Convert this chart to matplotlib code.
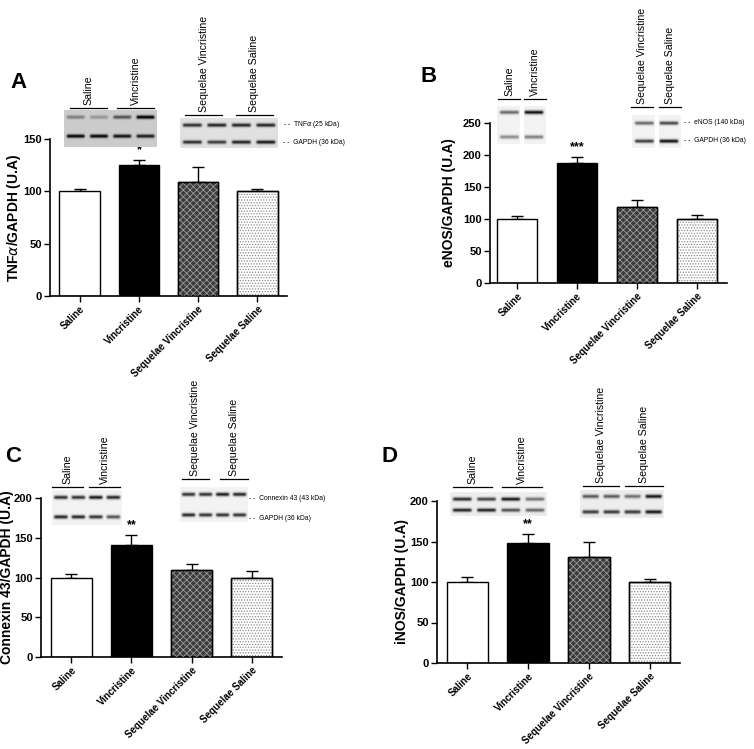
import numpy as np
import matplotlib
matplotlib.use("Agg")
import matplotlib.pyplot as plt

W, H = 754, 749
plt.rcParams['font.family'] = ['Liberation Sans', 'DejaVu Sans']
plt.rcParams['hatch.linewidth'] = 0.6

groups = ['Saline', 'Vincristine', 'Sequelae Vincristine', 'Sequelae Saline']

# values (mean, upper SEM)
tnf_mean = [100, 125, 109, 100]
tnf_err = [2.5, 5, 14, 2]
enos_mean = [100, 188, 119, 100]
enos_err = [4, 9, 10, 6]
cx43_mean = [100, 141, 110, 100]
cx43_err = [5, 12, 7, 8]
inos_mean = [100, 148, 131, 100]
inos_err = [6, 11, 18, 4]

stars = ['', '*', '', '']
stars_b = ['', '***', '', '']
stars_cd = ['', '**', '', '']

# blot band darkness per lane (top protein row, GAPDH row)
blot_a_left = ([0.35, 0.25, 0.55, 0.95], [0.9, 0.9, 0.85, 0.8])
blot_a_right = ([0.8, 0.85, 0.85, 0.85], [0.8, 0.75, 0.85, 0.9])
blot_b_left = ([0.6, 1.0], [0.45, 0.5])
blot_b_right = ([0.6, 0.75], [0.8, 1.0])
blot_c_left = ([0.85, 0.85, 0.95, 0.9], [0.9, 0.9, 0.85, 0.7])
blot_c_right = ([0.85, 0.85, 0.95, 0.9], [0.9, 0.85, 0.85, 0.85])
blot_d_left = ([0.85, 0.75, 0.95, 0.55], [0.9, 0.9, 0.7, 0.6])
blot_d_right = ([0.65, 0.65, 0.55, 0.95], [0.8, 0.8, 0.8, 0.95])

fig = plt.figure(figsize=(W / 100, H / 100), dpi=100)


def px_axes(x0, y0, x1, y1):
    return fig.add_axes([x0 / W, 1 - y1 / H, (x1 - x0) / W, (y1 - y0) / H])


def ftext(x, y, s, **kw):
    fig.text(x / W, 1 - y / H, s, **kw)


def bar_panel(box, means, errs, ymax, step, ylabel, sig, label_x, xlim=(-0.5, 3.5)):
    ax = px_axes(*box)
    x = np.arange(len(groups))
    faces = ['white', 'black', '#3c3c3c', 'white']
    ax.bar(x, means, width=0.68, color=faces, edgecolor='black', linewidth=1.0, zorder=2)
    # hatch overlays
    ax.bar(x[2], means[2], width=0.68, fill=False, hatch='xxxxx', edgecolor='#9c9c9c',
           linewidth=0, zorder=3)
    ax.bar(x[3], means[3], width=0.68, fill=False, hatch='......', edgecolor='#8c8c8c',
           linewidth=0, zorder=3)
    ax.bar(x[2:], means[2:], width=0.68, fill=False, edgecolor='black', linewidth=1.0, zorder=4)
    ax.errorbar(x, means, yerr=[np.zeros(len(errs)), errs], fmt='none', ecolor='black',
                elinewidth=1.0, capsize=4, capthick=1.0, zorder=1)
    for xi, m, e, s in zip(x, means, errs, sig):
        if s:
            ax.text(xi, m + e + ymax * 0.025, s, ha='center', va='bottom',
                    fontsize=9, fontweight='bold')
    ax.set_ylim(0, ymax)
    ax.set_xlim(*xlim)
    ax.set_yticks(np.arange(0, ymax + 1, step))
    ax.set_xticks(x)
    ax.set_xticklabels(groups, rotation=45, ha='right', rotation_mode='anchor',
                       fontsize=7, fontweight='bold')
    for lbl in ax.get_yticklabels():
        lbl.set_fontweight('bold')
        lbl.set_fontsize(8)
    ax.tick_params(axis='both', direction='out', length=4, width=1.0, pad=2)
    ax.spines['top'].set_visible(False)
    ax.spines['right'].set_visible(False)
    ax.spines['left'].set_linewidth(1.2)
    ax.spines['bottom'].set_linewidth(1.2)
    ax.set_ylabel(ylabel, fontsize=10, fontweight='bold')
    # label_x is roughly the right edge of the rotated label, in figure pixels
    ax.yaxis.set_label_coords((label_x - box[0]) / (box[2] - box[0]), 0.5)
    ax.set_facecolor('none')
    return ax


def blot(box, rows, bands_y, lanes, bg=0.92, gap_after=None):
    x0, y0, x1, y1 = box
    ax = px_axes(x0, y0, x1, y1)
    h = int(y1 - y0) * 4
    w = int(x1 - x0) * 4
    img = np.full((h, w), bg)
    yy, xx = np.mgrid[0:h, 0:w]
    lane_w = w / lanes
    for r, (dark, by) in enumerate(zip(rows, bands_y)):
        cy = (by - y0) * 4
        for i, d in enumerate(dark):
            cx = (i + 0.5) * lane_w
            half = lane_w * 0.38
            px = 1 / (1 + np.exp((np.abs(xx - cx) - half) / 2.0))
            py = np.exp(-((yy - cy) ** 2) / (2 * 5.0 ** 2))
            img -= d * 0.9 * px * py
    img = np.clip(img, 0, 1)
    ax.imshow(img, cmap='gray', vmin=0, vmax=1, aspect='auto', interpolation='bilinear')
    if gap_after is not None:
        ax.axvline(gap_after * lane_w - 0.5, color='white', linewidth=3)
    ax.axis('off')
    return ax


def group_label(xa, xb, y, text):
    ln = plt.Line2D([xa / W, xb / W], [1 - y / H, 1 - y / H], color='black',
                    linewidth=0.9, transform=fig.transFigure)
    fig.add_artist(ln)
    ftext((xa + xb) / 2, y - 3, text, rotation=90, ha='center', va='bottom', fontsize=7.6)


def side_label(x, y, text):
    ftext(x, y, '- -  ' + text, ha='left', va='center', fontsize=4.9)


# ---- panel A
bar_panel((50, 139, 287, 296), tnf_mean, tnf_err, 150, 50, r'TNF$\alpha$/GAPDH (U.A)', stars,
          label_x=23)
blot((64, 110, 157, 147), blot_a_left, [117, 136], 4, bg=0.8)
blot((180, 118, 278, 148), blot_a_right, [125, 142], 4, bg=0.88)
group_label(70, 107, 108, 'Saline')
group_label(117, 154, 108, 'Vincristine')
group_label(185, 222, 115, 'Sequelae Vincristine')
group_label(236, 273, 115, 'Sequelae Saline')
side_label(283, 125, r'TNF$\alpha$ (25 kDa)')
side_label(283, 142, 'GAPDH (36 kDa)')
ftext(10, 82, 'A', fontsize=16, fontweight='bold', va='center')

# ---- panel B
bar_panel((490, 123, 727, 283), enos_mean, enos_err, 250, 50, 'eNOS/GAPDH (U.A)', stars_b,
          label_x=456, xlim=(-0.45, 3.5))
blot((497, 106, 546, 144), blot_b_left, [113, 137], 2, bg=0.95, gap_after=1)
blot((632, 115, 681, 148), blot_b_right, [123, 141], 2, bg=0.95, gap_after=1)
group_label(498, 520, 99, 'Saline')
group_label(524, 546, 99, 'Vincristine')
group_label(631, 653, 107, 'Sequelae Vincristine')
group_label(659, 681, 107, 'Sequelae Saline')
side_label(684, 123, 'eNOS (140 kDa)')
side_label(684, 141, 'GAPDH (36 kDa)')
ftext(420, 77, 'B', fontsize=16, fontweight='bold', va='center')

# ---- panel C
bar_panel((41, 498, 282, 657), cx43_mean, cx43_err, 200, 50, 'Connexin 43/GAPDH (U.A)', stars_cd,
          label_x=14)
blot((52, 490, 122, 525), blot_c_left, [498, 517], 4, bg=0.95)
blot((180, 487, 248, 522), blot_c_right, [495, 515], 4, bg=0.95)
group_label(52, 83, 487, 'Saline')
group_label(89, 120, 487, 'Vincristine')
group_label(182, 209, 479, 'Sequelae Vincristine')
group_label(220, 248, 479, 'Sequelae Saline')
side_label(249, 498, 'Connexin 43 (43 kDa)')
side_label(249, 519, 'GAPDH (36 kDa)')
ftext(5, 457, 'C', fontsize=16, fontweight='bold', va='center')

# ---- panel D
bar_panel((437, 501, 680, 663), inos_mean, inos_err, 200, 50, 'iNOS/GAPDH (U.A)', stars_cd,
          label_x=409)
blot((450, 492, 547, 516), blot_d_left, [499, 510], 4, bg=0.93)
blot((580, 490, 664, 518), blot_d_right, [497, 512], 4, bg=0.93)
group_label(453, 492, 487, 'Saline')
group_label(502, 542, 487, 'Vincristine')
group_label(583, 619, 486, 'Sequelae Vincristine')
group_label(625, 663, 486, 'Sequelae Saline')
ftext(382, 457, 'D', fontsize=16, fontweight='bold', va='center')

fig.savefig('out.png', dpi=100, facecolor='white')
